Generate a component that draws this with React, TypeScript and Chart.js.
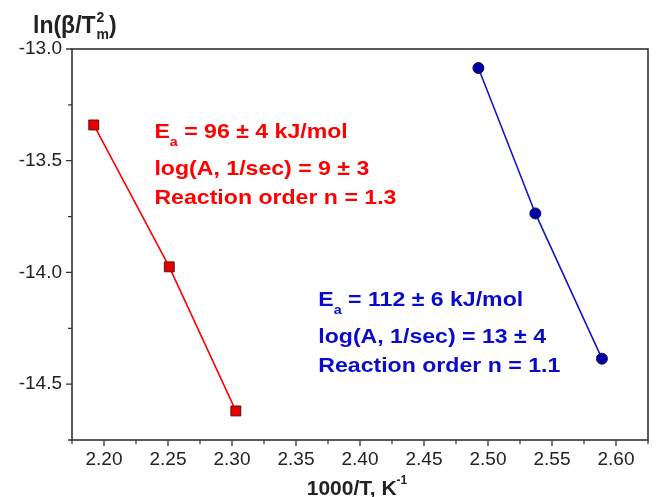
import React, { useEffect, useRef } from 'react';
import { Chart, registerables } from 'chart.js';

Chart.register(...registerables);

// Data (1000/T in K^-1, ln(beta/Tm^2))
const redX = [2.192, 2.251, 2.303];
const redY = [-13.34, -13.975, -14.62];
const blueX = [2.4925, 2.537, 2.589];
const blueY = [-13.085, -13.736, -14.386];

// Ticks
const xMajorTicks = [2.2, 2.25, 2.3, 2.35, 2.4, 2.45, 2.5, 2.55, 2.6];
const xMinorTicks = [2.175, 2.225, 2.275, 2.325, 2.375, 2.425, 2.475, 2.525, 2.575, 2.625];
const yMajorTicks = [-13.0, -13.5, -14.0, -14.5];
const yMinorTicks = [-13.25, -13.75, -14.25, -14.75];

// Annotations
const redLines = ['log(A, 1/sec) = 9 ± 3', 'Reaction order n = 1.3'];
const redEaRest = ' = 96 ± 4 kJ/mol';
const blueLines = ['log(A, 1/sec) = 13 ± 4', 'Reaction order n = 1.1'];
const blueEaRest = ' = 112 ± 6 kJ/mol';

const RED = '#ff0000';
const BLUE = '#0a0acc';
const FONT = '"Liberation Sans", Arial, sans-serif';

const decorPlugin = {
  id: 'decor',
  afterDraw(chart: any) {
    const { ctx, chartArea: ca, scales } = chart;
    const xs = scales.x;
    const ys = scales.y;
    ctx.save();
    // frame
    ctx.strokeStyle = '#333';
    ctx.lineWidth = 1.6;
    ctx.strokeRect(ca.left, ca.top, ca.right - ca.left, ca.bottom - ca.top);
    // ticks
    ctx.lineWidth = 1.3;
    ctx.beginPath();
    xMajorTicks.forEach((v) => {
      const px = xs.getPixelForValue(v);
      ctx.moveTo(px, ca.bottom);
      ctx.lineTo(px, ca.bottom + 6);
    });
    xMinorTicks.forEach((v) => {
      const px = xs.getPixelForValue(v);
      ctx.moveTo(px, ca.bottom);
      ctx.lineTo(px, ca.bottom + 4);
    });
    yMajorTicks.forEach((v) => {
      const py = ys.getPixelForValue(v);
      ctx.moveTo(ca.left, py);
      ctx.lineTo(ca.left - 6, py);
    });
    yMinorTicks.forEach((v) => {
      const py = ys.getPixelForValue(v);
      ctx.moveTo(ca.left, py);
      ctx.lineTo(ca.left - 4, py);
    });
    ctx.stroke();

    // annotation blocks
    const drawBlock = (x: number, y: number, color: string, rest: string, lines: string[]) => {
      ctx.save();
      ctx.translate(x, y);
      ctx.scale(1.1, 1);
      ctx.fillStyle = color;
      ctx.textAlign = 'left';
      ctx.textBaseline = 'alphabetic';
      ctx.font = `bold 21px ${FONT}`;
      ctx.fillText('E', 0, 0);
      const wE = ctx.measureText('E').width;
      ctx.font = `bold 13px ${FONT}`;
      ctx.fillText('a', wE, 8);
      const wa = ctx.measureText('a').width;
      ctx.font = `bold 21px ${FONT}`;
      ctx.fillText(rest, wE + wa, 0);
      ctx.fillText(lines[0], 0, 36.5);
      ctx.fillText(lines[1], 0, 65.5);
      ctx.restore();
    };
    const rx = xs.getPixelForValue(2.2394);
    const ry = ys.getPixelForValue(-13.399);
    drawBlock(rx, ry, RED, redEaRest, redLines);
    const bx = xs.getPixelForValue(2.3674);
    const by = ys.getPixelForValue(-14.151);
    drawBlock(bx, by, BLUE, blueEaRest, blueLines);

    // y axis title: ln(β/T²m)
    ctx.fillStyle = '#222';
    ctx.textAlign = 'left';
    ctx.textBaseline = 'alphabetic';
    ctx.font = `bold 23px ${FONT}`;
    let tx = 33;
    const tb = 33;
    ctx.fillText('ln(β/T', tx, tb);
    tx += ctx.measureText('ln(β/T').width + 1;
    ctx.font = `bold 14px ${FONT}`;
    ctx.fillText('2', tx, tb - 11);
    ctx.fillText('m', tx, tb + 6);
    tx += ctx.measureText('m').width;
    ctx.font = `bold 23px ${FONT}`;
    ctx.fillText(')', tx, tb);

    // x axis title: 1000/T, K^-1
    ctx.font = `bold 21px ${FONT}`;
    const main = '1000/T, K';
    const wm = ctx.measureText(main).width;
    ctx.font = `bold 12px ${FONT}`;
    const sup = '-1';
    const ws = ctx.measureText(sup).width;
    const cx = (ca.left + ca.right) / 2 - 3;
    const sx = cx - (wm + ws) / 2;
    const sb = 495;
    ctx.font = `bold 21px ${FONT}`;
    ctx.fillText(main, sx, sb);
    ctx.font = `bold 12px ${FONT}`;
    ctx.fillText(sup, sx + wm, sb - 11);
    ctx.restore();
  },
};

export default function App() {
  const ref = useRef<HTMLCanvasElement | null>(null);
  useEffect(() => {
    document.body.style.margin = '0';
    const canvas = ref.current;
    if (!canvas) return;
    const chart = new Chart(canvas, {
      type: 'scatter',
      data: {
        datasets: [
          {
            label: 'red',
            data: redX.map((x, i) => ({ x, y: redY[i] })),
            showLine: true,
            borderColor: RED,
            borderWidth: 1.6,
            backgroundColor: '#e60000',
            pointStyle: 'rect',
            pointRadius: 7,
            pointBorderColor: '#5a1010',
            pointBorderWidth: 1,
            pointBackgroundColor: '#e60000',
          },
          {
            label: 'blue',
            data: blueX.map((x, i) => ({ x, y: blueY[i] })),
            showLine: true,
            borderColor: '#1515c8',
            borderWidth: 1.6,
            backgroundColor: '#0000a8',
            pointStyle: 'circle',
            pointRadius: 5.5,
            pointBorderColor: '#10104a',
            pointBorderWidth: 1,
            pointBackgroundColor: '#0000a8',
          },
        ],
      },
      options: {
        animation: false,
        responsive: false,
        devicePixelRatio: 1,
        layout: { padding: { top: 49, right: 6, left: 0, bottom: 0 } },
        plugins: { legend: { display: false }, tooltip: { enabled: false } },
        scales: {
          x: {
            type: 'linear',
            min: 2.175,
            max: 2.625,
            afterBuildTicks: (s: any) => {
              s.ticks = xMajorTicks.map((v) => ({ value: v }));
            },
            afterFit: (s: any) => {
              s.height = 57;
            },
            grid: { display: false, drawTicks: false },
            border: { display: false },
            ticks: {
              autoSkip: false,
              maxRotation: 0,
              padding: 8,
              color: '#222',
              font: { family: FONT, size: 19 },
              callback: (v: any) => Number(v).toFixed(2),
            },
          },
          y: {
            type: 'linear',
            min: -14.75,
            max: -13.0,
            afterBuildTicks: (s: any) => {
              s.ticks = yMajorTicks.map((v) => ({ value: v }));
            },
            afterFit: (s: any) => {
              s.width = 72;
            },
            grid: { display: false, drawTicks: false },
            border: { display: false },
            ticks: {
              autoSkip: false,
              padding: 10,
              color: '#222',
              font: { family: FONT, size: 19 },
              callback: (v: any) => Number(v).toFixed(1),
            },
          },
        },
      },
      plugins: [decorPlugin],
    });
    return () => chart.destroy();
  }, []);
  return (
    <div style={{ width: 656, height: 497 }}>
      <canvas ref={ref} width={656} height={497} style={{ display: 'block' }} />
    </div>
  );
}
